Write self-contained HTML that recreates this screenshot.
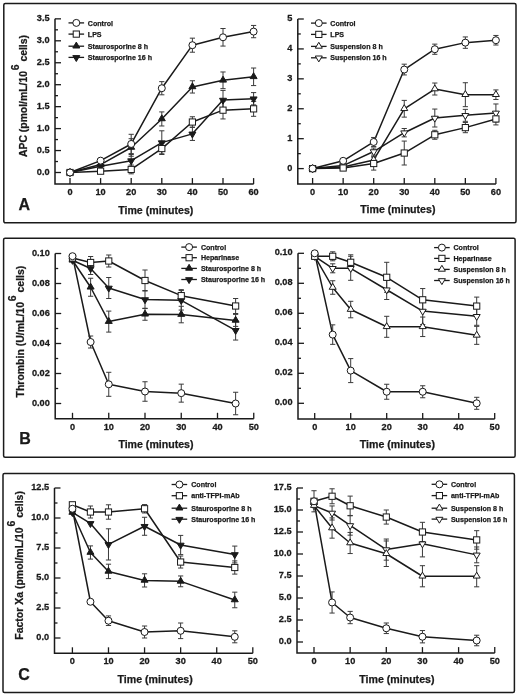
<!DOCTYPE html>
<html><head><meta charset="utf-8"><title>Figure</title>
<style>
html,body{margin:0;padding:0;background:#fff;}
body{width:520px;height:695px;overflow:hidden;}
svg{display:block;filter:grayscale(1);}
text{font-family:"Liberation Sans", sans-serif;font-weight:bold;fill:#1a1a1a;stroke:#1a1a1a;stroke-width:0.25px;}
.tl{font-size:8.6px;}
.at{font-size:10.6px;}
.lg{font-size:7.1px;}
.pl{font-size:16px;}
</style></head>
<body>
<svg width="520" height="695" viewBox="0 0 520 695">
<rect x="0" y="0" width="520" height="695" fill="#fff"/>
<rect x="3.8" y="3.4" width="512.2" height="219.4" rx="1.5" fill="none" stroke="#1a1a1a" stroke-width="1.5"/>
<rect x="3.6" y="238.2" width="511.5" height="219.1" rx="1.5" fill="none" stroke="#1a1a1a" stroke-width="1.5"/>
<rect x="3.0" y="473.5" width="511.4" height="219" rx="1.5" fill="none" stroke="#1a1a1a" stroke-width="1.5"/>
<path d="M55 18.85 L55 184.1 L253.6 184.1" fill="none" stroke="#1a1a1a" stroke-width="1.5"/>
<line x1="55" y1="172.5" x2="61" y2="172.5" stroke="#1a1a1a" stroke-width="1.3"/>
<text transform="translate(49.6,174.5) scale(1.07,1)" text-anchor="end" class="tl">0.0</text>
<line x1="55" y1="161.53" x2="58" y2="161.53" stroke="#1a1a1a" stroke-width="1.3"/>
<line x1="55" y1="150.55" x2="61" y2="150.55" stroke="#1a1a1a" stroke-width="1.3"/>
<text transform="translate(49.6,152.55) scale(1.07,1)" text-anchor="end" class="tl">0.5</text>
<line x1="55" y1="139.57" x2="58" y2="139.57" stroke="#1a1a1a" stroke-width="1.3"/>
<line x1="55" y1="128.6" x2="61" y2="128.6" stroke="#1a1a1a" stroke-width="1.3"/>
<text transform="translate(49.6,130.6) scale(1.07,1)" text-anchor="end" class="tl">1.0</text>
<line x1="55" y1="117.62" x2="58" y2="117.62" stroke="#1a1a1a" stroke-width="1.3"/>
<line x1="55" y1="106.65" x2="61" y2="106.65" stroke="#1a1a1a" stroke-width="1.3"/>
<text transform="translate(49.6,108.65) scale(1.07,1)" text-anchor="end" class="tl">1.5</text>
<line x1="55" y1="95.67" x2="58" y2="95.67" stroke="#1a1a1a" stroke-width="1.3"/>
<line x1="55" y1="84.7" x2="61" y2="84.7" stroke="#1a1a1a" stroke-width="1.3"/>
<text transform="translate(49.6,86.7) scale(1.07,1)" text-anchor="end" class="tl">2.0</text>
<line x1="55" y1="73.73" x2="58" y2="73.73" stroke="#1a1a1a" stroke-width="1.3"/>
<line x1="55" y1="62.75" x2="61" y2="62.75" stroke="#1a1a1a" stroke-width="1.3"/>
<text transform="translate(49.6,64.75) scale(1.07,1)" text-anchor="end" class="tl">2.5</text>
<line x1="55" y1="51.78" x2="58" y2="51.78" stroke="#1a1a1a" stroke-width="1.3"/>
<line x1="55" y1="40.8" x2="61" y2="40.8" stroke="#1a1a1a" stroke-width="1.3"/>
<text transform="translate(49.6,42.8) scale(1.07,1)" text-anchor="end" class="tl">3.0</text>
<line x1="55" y1="29.83" x2="58" y2="29.83" stroke="#1a1a1a" stroke-width="1.3"/>
<line x1="55" y1="18.85" x2="61" y2="18.85" stroke="#1a1a1a" stroke-width="1.3"/>
<text transform="translate(49.6,20.85) scale(1.07,1)" text-anchor="end" class="tl">3.5</text>
<line x1="70" y1="184.1" x2="70" y2="178.1" stroke="#1a1a1a" stroke-width="1.3"/>
<text transform="translate(70,195.1) scale(1.07,1)" text-anchor="middle" class="tl">0</text>
<line x1="100.6" y1="184.1" x2="100.6" y2="178.1" stroke="#1a1a1a" stroke-width="1.3"/>
<text transform="translate(100.6,195.1) scale(1.07,1)" text-anchor="middle" class="tl">10</text>
<line x1="131.2" y1="184.1" x2="131.2" y2="178.1" stroke="#1a1a1a" stroke-width="1.3"/>
<text transform="translate(131.2,195.1) scale(1.07,1)" text-anchor="middle" class="tl">20</text>
<line x1="161.8" y1="184.1" x2="161.8" y2="178.1" stroke="#1a1a1a" stroke-width="1.3"/>
<text transform="translate(161.8,195.1) scale(1.07,1)" text-anchor="middle" class="tl">30</text>
<line x1="192.4" y1="184.1" x2="192.4" y2="178.1" stroke="#1a1a1a" stroke-width="1.3"/>
<text transform="translate(192.4,195.1) scale(1.07,1)" text-anchor="middle" class="tl">40</text>
<line x1="223" y1="184.1" x2="223" y2="178.1" stroke="#1a1a1a" stroke-width="1.3"/>
<text transform="translate(223,195.1) scale(1.07,1)" text-anchor="middle" class="tl">50</text>
<line x1="253.6" y1="184.1" x2="253.6" y2="178.1" stroke="#1a1a1a" stroke-width="1.3"/>
<text transform="translate(253.6,195.1) scale(1.07,1)" text-anchor="middle" class="tl">60</text>
<text x="155.8" y="213.5" text-anchor="middle" class="at">Time (minutes)</text>
<polyline points="70,172.5 100.6,160.65 131.2,143.97 161.8,88.21 192.4,45.19 223,37.29 253.6,31.58" fill="none" stroke="#1a1a1a" stroke-width="1.5" stroke-linejoin="round"/>
<polyline points="70,172.5 100.6,171.18 131.2,169.43 161.8,148.57 192.4,122.02 223,110.16 253.6,108.84" fill="none" stroke="#1a1a1a" stroke-width="1.5" stroke-linejoin="round"/>
<polyline points="70,172.5 100.6,164.6 131.2,147.48 161.8,118.94 192.4,86.9 223,80.31 253.6,76.8" fill="none" stroke="#1a1a1a" stroke-width="1.5" stroke-linejoin="round"/>
<polyline points="70,172.5 100.6,166.35 131.2,160.65 161.8,142.65 192.4,133.87 223,100.07 253.6,98.75" fill="none" stroke="#1a1a1a" stroke-width="1.5" stroke-linejoin="round"/>
<path d="M100.6 158.89 L100.6 162.4 M98 158.89 L103.2 158.89 M98 162.4 L103.2 162.4" stroke="#3a3a3a" stroke-width="1" fill="none"/>
<path d="M131.2 134.31 L131.2 153.62 M128.6 134.31 L133.8 134.31 M128.6 153.62 L133.8 153.62" stroke="#3a3a3a" stroke-width="1" fill="none"/>
<path d="M161.8 81.63 L161.8 94.8 M159.2 81.63 L164.4 81.63 M159.2 94.8 L164.4 94.8" stroke="#3a3a3a" stroke-width="1" fill="none"/>
<path d="M192.4 38.17 L192.4 52.21 M189.8 38.17 L195 38.17 M189.8 52.21 L195 52.21" stroke="#3a3a3a" stroke-width="1" fill="none"/>
<path d="M223 28.51 L223 46.07 M220.4 28.51 L225.6 28.51 M220.4 46.07 L225.6 46.07" stroke="#3a3a3a" stroke-width="1" fill="none"/>
<path d="M253.6 25.44 L253.6 37.73 M251 25.44 L256.2 25.44 M251 37.73 L256.2 37.73" stroke="#3a3a3a" stroke-width="1" fill="none"/>
<path d="M100.6 168.99 L100.6 173.38 M98 168.99 L103.2 168.99 M98 173.38 L103.2 173.38" stroke="#3a3a3a" stroke-width="1" fill="none"/>
<path d="M131.2 165.04 L131.2 173.82 M128.6 165.04 L133.8 165.04 M128.6 173.82 L133.8 173.82" stroke="#3a3a3a" stroke-width="1" fill="none"/>
<path d="M161.8 143.31 L161.8 153.84 M159.2 143.31 L164.4 143.31 M159.2 153.84 L164.4 153.84" stroke="#3a3a3a" stroke-width="1" fill="none"/>
<path d="M192.4 116.75 L192.4 127.28 M189.8 116.75 L195 116.75 M189.8 127.28 L195 127.28" stroke="#3a3a3a" stroke-width="1" fill="none"/>
<path d="M223 101.38 L223 118.94 M220.4 101.38 L225.6 101.38 M220.4 118.94 L225.6 118.94" stroke="#3a3a3a" stroke-width="1" fill="none"/>
<path d="M253.6 101.38 L253.6 116.31 M251 101.38 L256.2 101.38 M251 116.31 L256.2 116.31" stroke="#3a3a3a" stroke-width="1" fill="none"/>
<path d="M100.6 162.4 L100.6 166.79 M98 162.4 L103.2 162.4 M98 166.79 L103.2 166.79" stroke="#3a3a3a" stroke-width="1" fill="none"/>
<path d="M131.2 138.7 L131.2 156.26 M128.6 138.7 L133.8 138.7 M128.6 156.26 L133.8 156.26" stroke="#3a3a3a" stroke-width="1" fill="none"/>
<path d="M161.8 111.92 L161.8 125.97 M159.2 111.92 L164.4 111.92 M159.2 125.97 L164.4 125.97" stroke="#3a3a3a" stroke-width="1" fill="none"/>
<path d="M192.4 80.75 L192.4 93.04 M189.8 80.75 L195 80.75 M189.8 93.04 L195 93.04" stroke="#3a3a3a" stroke-width="1" fill="none"/>
<path d="M223 71.97 L223 88.65 M220.4 71.97 L225.6 71.97 M220.4 88.65 L225.6 88.65" stroke="#3a3a3a" stroke-width="1" fill="none"/>
<path d="M253.6 68.02 L253.6 85.58 M251 68.02 L256.2 68.02 M251 85.58 L256.2 85.58" stroke="#3a3a3a" stroke-width="1" fill="none"/>
<path d="M100.6 164.16 L100.6 168.55 M98 164.16 L103.2 164.16 M98 168.55 L103.2 168.55" stroke="#3a3a3a" stroke-width="1" fill="none"/>
<path d="M131.2 154.5 L131.2 166.79 M128.6 154.5 L133.8 154.5 M128.6 166.79 L133.8 166.79" stroke="#3a3a3a" stroke-width="1" fill="none"/>
<path d="M161.8 130.8 L161.8 154.5 M159.2 130.8 L164.4 130.8 M159.2 154.5 L164.4 154.5" stroke="#3a3a3a" stroke-width="1" fill="none"/>
<path d="M192.4 127.28 L192.4 140.45 M189.8 127.28 L195 127.28 M189.8 140.45 L195 140.45" stroke="#3a3a3a" stroke-width="1" fill="none"/>
<path d="M223 90.41 L223 109.72 M220.4 90.41 L225.6 90.41 M220.4 109.72 L225.6 109.72" stroke="#3a3a3a" stroke-width="1" fill="none"/>
<path d="M253.6 92.6 L253.6 104.89 M251 92.6 L256.2 92.6 M251 104.89 L256.2 104.89" stroke="#3a3a3a" stroke-width="1" fill="none"/>
<path d="M70 176.6 L73.5 170.7 L66.5 170.7 Z" fill="#1a1a1a" stroke="#1a1a1a" stroke-width="1" stroke-linejoin="miter"/>
<path d="M100.6 170.45 L104.1 164.55 L97.1 164.55 Z" fill="#1a1a1a" stroke="#1a1a1a" stroke-width="1" stroke-linejoin="miter"/>
<path d="M131.2 164.75 L134.7 158.85 L127.7 158.85 Z" fill="#1a1a1a" stroke="#1a1a1a" stroke-width="1" stroke-linejoin="miter"/>
<path d="M161.8 146.75 L165.3 140.85 L158.3 140.85 Z" fill="#1a1a1a" stroke="#1a1a1a" stroke-width="1" stroke-linejoin="miter"/>
<path d="M192.4 137.97 L195.9 132.07 L188.9 132.07 Z" fill="#1a1a1a" stroke="#1a1a1a" stroke-width="1" stroke-linejoin="miter"/>
<path d="M223 104.17 L226.5 98.27 L219.5 98.27 Z" fill="#1a1a1a" stroke="#1a1a1a" stroke-width="1" stroke-linejoin="miter"/>
<path d="M253.6 102.85 L257.1 96.95 L250.1 96.95 Z" fill="#1a1a1a" stroke="#1a1a1a" stroke-width="1" stroke-linejoin="miter"/>
<path d="M70 168.4 L73.5 174.3 L66.5 174.3 Z" fill="#1a1a1a" stroke="#1a1a1a" stroke-width="1" stroke-linejoin="miter"/>
<path d="M100.6 160.5 L104.1 166.4 L97.1 166.4 Z" fill="#1a1a1a" stroke="#1a1a1a" stroke-width="1" stroke-linejoin="miter"/>
<path d="M131.2 143.38 L134.7 149.28 L127.7 149.28 Z" fill="#1a1a1a" stroke="#1a1a1a" stroke-width="1" stroke-linejoin="miter"/>
<path d="M161.8 114.84 L165.3 120.74 L158.3 120.74 Z" fill="#1a1a1a" stroke="#1a1a1a" stroke-width="1" stroke-linejoin="miter"/>
<path d="M192.4 82.8 L195.9 88.7 L188.9 88.7 Z" fill="#1a1a1a" stroke="#1a1a1a" stroke-width="1" stroke-linejoin="miter"/>
<path d="M223 76.21 L226.5 82.11 L219.5 82.11 Z" fill="#1a1a1a" stroke="#1a1a1a" stroke-width="1" stroke-linejoin="miter"/>
<path d="M253.6 72.7 L257.1 78.6 L250.1 78.6 Z" fill="#1a1a1a" stroke="#1a1a1a" stroke-width="1" stroke-linejoin="miter"/>
<rect x="66.9" y="169.4" width="6.2" height="6.2" fill="#ffffff" stroke="#1a1a1a" stroke-width="1"/>
<rect x="97.5" y="168.08" width="6.2" height="6.2" fill="#ffffff" stroke="#1a1a1a" stroke-width="1"/>
<rect x="128.1" y="166.33" width="6.2" height="6.2" fill="#ffffff" stroke="#1a1a1a" stroke-width="1"/>
<rect x="158.7" y="145.47" width="6.2" height="6.2" fill="#ffffff" stroke="#1a1a1a" stroke-width="1"/>
<rect x="189.3" y="118.92" width="6.2" height="6.2" fill="#ffffff" stroke="#1a1a1a" stroke-width="1"/>
<rect x="219.9" y="107.06" width="6.2" height="6.2" fill="#ffffff" stroke="#1a1a1a" stroke-width="1"/>
<rect x="250.5" y="105.75" width="6.2" height="6.2" fill="#ffffff" stroke="#1a1a1a" stroke-width="1"/>
<circle cx="70" cy="172.5" r="3.5" fill="#ffffff" stroke="#1a1a1a" stroke-width="1"/>
<circle cx="100.6" cy="160.65" r="3.5" fill="#ffffff" stroke="#1a1a1a" stroke-width="1"/>
<circle cx="131.2" cy="143.97" r="3.5" fill="#ffffff" stroke="#1a1a1a" stroke-width="1"/>
<circle cx="161.8" cy="88.21" r="3.5" fill="#ffffff" stroke="#1a1a1a" stroke-width="1"/>
<circle cx="192.4" cy="45.19" r="3.5" fill="#ffffff" stroke="#1a1a1a" stroke-width="1"/>
<circle cx="223" cy="37.29" r="3.5" fill="#ffffff" stroke="#1a1a1a" stroke-width="1"/>
<circle cx="253.6" cy="31.58" r="3.5" fill="#ffffff" stroke="#1a1a1a" stroke-width="1"/>
<line x1="68.5" y1="22.9" x2="84.1" y2="22.9" stroke="#1a1a1a" stroke-width="1.3"/>
<circle cx="76.3" cy="22.9" r="3.5" fill="#ffffff" stroke="#1a1a1a" stroke-width="1"/>
<text x="87.8" y="25.5" class="lg">Control</text>
<line x1="68.5" y1="34.1" x2="84.1" y2="34.1" stroke="#1a1a1a" stroke-width="1.3"/>
<rect x="73.2" y="31" width="6.2" height="6.2" fill="#ffffff" stroke="#1a1a1a" stroke-width="1"/>
<text x="87.8" y="36.7" class="lg">LPS</text>
<line x1="68.5" y1="46.2" x2="84.1" y2="46.2" stroke="#1a1a1a" stroke-width="1.3"/>
<path d="M76.3 42.1 L79.8 48 L72.8 48 Z" fill="#1a1a1a" stroke="#1a1a1a" stroke-width="1" stroke-linejoin="miter"/>
<text x="87.8" y="48.8" class="lg">Staurosporine 8 h</text>
<line x1="68.5" y1="57.4" x2="84.1" y2="57.4" stroke="#1a1a1a" stroke-width="1.3"/>
<path d="M76.3 61.5 L79.8 55.6 L72.8 55.6 Z" fill="#1a1a1a" stroke="#1a1a1a" stroke-width="1" stroke-linejoin="miter"/>
<text x="87.8" y="60" class="lg">Staurosporine 16 h</text>
<path d="M297.8 19 L297.8 184 L495.9 184" fill="none" stroke="#1a1a1a" stroke-width="1.5"/>
<line x1="297.8" y1="168.6" x2="303.8" y2="168.6" stroke="#1a1a1a" stroke-width="1.3"/>
<text transform="translate(292.4,170.6) scale(1.07,1)" text-anchor="end" class="tl">0</text>
<line x1="297.8" y1="153.64" x2="300.8" y2="153.64" stroke="#1a1a1a" stroke-width="1.3"/>
<line x1="297.8" y1="138.68" x2="303.8" y2="138.68" stroke="#1a1a1a" stroke-width="1.3"/>
<text transform="translate(292.4,140.68) scale(1.07,1)" text-anchor="end" class="tl">1</text>
<line x1="297.8" y1="123.72" x2="300.8" y2="123.72" stroke="#1a1a1a" stroke-width="1.3"/>
<line x1="297.8" y1="108.76" x2="303.8" y2="108.76" stroke="#1a1a1a" stroke-width="1.3"/>
<text transform="translate(292.4,110.76) scale(1.07,1)" text-anchor="end" class="tl">2</text>
<line x1="297.8" y1="93.8" x2="300.8" y2="93.8" stroke="#1a1a1a" stroke-width="1.3"/>
<line x1="297.8" y1="78.84" x2="303.8" y2="78.84" stroke="#1a1a1a" stroke-width="1.3"/>
<text transform="translate(292.4,80.84) scale(1.07,1)" text-anchor="end" class="tl">3</text>
<line x1="297.8" y1="63.88" x2="300.8" y2="63.88" stroke="#1a1a1a" stroke-width="1.3"/>
<line x1="297.8" y1="48.92" x2="303.8" y2="48.92" stroke="#1a1a1a" stroke-width="1.3"/>
<text transform="translate(292.4,50.92) scale(1.07,1)" text-anchor="end" class="tl">4</text>
<line x1="297.8" y1="33.96" x2="300.8" y2="33.96" stroke="#1a1a1a" stroke-width="1.3"/>
<line x1="297.8" y1="19" x2="303.8" y2="19" stroke="#1a1a1a" stroke-width="1.3"/>
<text transform="translate(292.4,21) scale(1.07,1)" text-anchor="end" class="tl">5</text>
<line x1="312.6" y1="184" x2="312.6" y2="178" stroke="#1a1a1a" stroke-width="1.3"/>
<text transform="translate(312.6,195) scale(1.07,1)" text-anchor="middle" class="tl">0</text>
<line x1="343.15" y1="184" x2="343.15" y2="178" stroke="#1a1a1a" stroke-width="1.3"/>
<text transform="translate(343.15,195) scale(1.07,1)" text-anchor="middle" class="tl">10</text>
<line x1="373.7" y1="184" x2="373.7" y2="178" stroke="#1a1a1a" stroke-width="1.3"/>
<text transform="translate(373.7,195) scale(1.07,1)" text-anchor="middle" class="tl">20</text>
<line x1="404.25" y1="184" x2="404.25" y2="178" stroke="#1a1a1a" stroke-width="1.3"/>
<text transform="translate(404.25,195) scale(1.07,1)" text-anchor="middle" class="tl">30</text>
<line x1="434.8" y1="184" x2="434.8" y2="178" stroke="#1a1a1a" stroke-width="1.3"/>
<text transform="translate(434.8,195) scale(1.07,1)" text-anchor="middle" class="tl">40</text>
<line x1="465.35" y1="184" x2="465.35" y2="178" stroke="#1a1a1a" stroke-width="1.3"/>
<text transform="translate(465.35,195) scale(1.07,1)" text-anchor="middle" class="tl">50</text>
<line x1="495.9" y1="184" x2="495.9" y2="178" stroke="#1a1a1a" stroke-width="1.3"/>
<text transform="translate(495.9,195) scale(1.07,1)" text-anchor="middle" class="tl">60</text>
<text x="397.85" y="213.4" text-anchor="middle" class="at">Time (minutes)</text>
<polyline points="312.6,168.6 343.15,160.82 373.7,141.97 404.25,69.56 434.8,49.22 465.35,42.64 495.9,40.24" fill="none" stroke="#1a1a1a" stroke-width="1.5" stroke-linejoin="round"/>
<polyline points="312.6,168.6 343.15,168 373.7,163.51 404.25,153.04 434.8,134.79 465.35,127.61 495.9,118.93" fill="none" stroke="#1a1a1a" stroke-width="1.5" stroke-linejoin="round"/>
<polyline points="312.6,168.6 343.15,167.1 373.7,159.92 404.25,108.76 434.8,89.01 465.35,94.7 495.9,94.7" fill="none" stroke="#1a1a1a" stroke-width="1.5" stroke-linejoin="round"/>
<polyline points="312.6,168.6 343.15,165.61 373.7,151.55 404.25,132.7 434.8,118.04 465.35,115.34 495.9,112.95" fill="none" stroke="#1a1a1a" stroke-width="1.5" stroke-linejoin="round"/>
<path d="M343.15 159.32 L343.15 162.32 M340.55 159.32 L345.75 159.32 M340.55 162.32 L345.75 162.32" stroke="#3a3a3a" stroke-width="1" fill="none"/>
<path d="M373.7 137.48 L373.7 146.46 M371.1 137.48 L376.3 137.48 M371.1 146.46 L376.3 146.46" stroke="#3a3a3a" stroke-width="1" fill="none"/>
<path d="M404.25 64.18 L404.25 74.95 M401.65 64.18 L406.85 64.18 M401.65 74.95 L406.85 74.95" stroke="#3a3a3a" stroke-width="1" fill="none"/>
<path d="M434.8 44.13 L434.8 54.31 M432.2 44.13 L437.4 44.13 M432.2 54.31 L437.4 54.31" stroke="#3a3a3a" stroke-width="1" fill="none"/>
<path d="M465.35 36.95 L465.35 48.32 M462.75 36.95 L467.95 36.95 M462.75 48.32 L467.95 48.32" stroke="#3a3a3a" stroke-width="1" fill="none"/>
<path d="M495.9 35.46 L495.9 45.03 M493.3 35.46 L498.5 35.46 M493.3 45.03 L498.5 45.03" stroke="#3a3a3a" stroke-width="1" fill="none"/>
<path d="M343.15 166.51 L343.15 169.5 M340.55 166.51 L345.75 166.51 M340.55 169.5 L345.75 169.5" stroke="#3a3a3a" stroke-width="1" fill="none"/>
<path d="M373.7 156.93 L373.7 170.1 M371.1 156.93 L376.3 156.93 M371.1 170.1 L376.3 170.1" stroke="#3a3a3a" stroke-width="1" fill="none"/>
<path d="M404.25 141.07 L404.25 165.01 M401.65 141.07 L406.85 141.07 M401.65 165.01 L406.85 165.01" stroke="#3a3a3a" stroke-width="1" fill="none"/>
<path d="M434.8 130.3 L434.8 139.28 M432.2 130.3 L437.4 130.3 M432.2 139.28 L437.4 139.28" stroke="#3a3a3a" stroke-width="1" fill="none"/>
<path d="M465.35 122.52 L465.35 132.7 M462.75 122.52 L467.95 122.52 M462.75 132.7 L467.95 132.7" stroke="#3a3a3a" stroke-width="1" fill="none"/>
<path d="M495.9 112.95 L495.9 124.92 M493.3 112.95 L498.5 112.95 M493.3 124.92 L498.5 124.92" stroke="#3a3a3a" stroke-width="1" fill="none"/>
<path d="M343.15 165.61 L343.15 168.6 M340.55 165.61 L345.75 165.61 M340.55 168.6 L345.75 168.6" stroke="#3a3a3a" stroke-width="1" fill="none"/>
<path d="M373.7 156.93 L373.7 162.92 M371.1 156.93 L376.3 156.93 M371.1 162.92 L376.3 162.92" stroke="#3a3a3a" stroke-width="1" fill="none"/>
<path d="M404.25 100.38 L404.25 117.14 M401.65 100.38 L406.85 100.38 M401.65 117.14 L406.85 117.14" stroke="#3a3a3a" stroke-width="1" fill="none"/>
<path d="M434.8 83.03 L434.8 95 M432.2 83.03 L437.4 83.03 M432.2 95 L437.4 95" stroke="#3a3a3a" stroke-width="1" fill="none"/>
<path d="M465.35 82.73 L465.35 106.67 M462.75 82.73 L467.95 82.73 M462.75 106.67 L467.95 106.67" stroke="#3a3a3a" stroke-width="1" fill="none"/>
<path d="M495.9 89.91 L495.9 99.48 M493.3 89.91 L498.5 89.91 M493.3 99.48 L498.5 99.48" stroke="#3a3a3a" stroke-width="1" fill="none"/>
<path d="M343.15 164.11 L343.15 167.1 M340.55 164.11 L345.75 164.11 M340.55 167.1 L345.75 167.1" stroke="#3a3a3a" stroke-width="1" fill="none"/>
<path d="M373.7 147.96 L373.7 155.14 M371.1 147.96 L376.3 147.96 M371.1 155.14 L376.3 155.14" stroke="#3a3a3a" stroke-width="1" fill="none"/>
<path d="M404.25 128.51 L404.25 136.88 M401.65 128.51 L406.85 128.51 M401.65 136.88 L406.85 136.88" stroke="#3a3a3a" stroke-width="1" fill="none"/>
<path d="M434.8 109.06 L434.8 127.01 M432.2 109.06 L437.4 109.06 M432.2 127.01 L437.4 127.01" stroke="#3a3a3a" stroke-width="1" fill="none"/>
<path d="M465.35 109.36 L465.35 121.33 M462.75 109.36 L467.95 109.36 M462.75 121.33 L467.95 121.33" stroke="#3a3a3a" stroke-width="1" fill="none"/>
<path d="M495.9 103.97 L495.9 121.92 M493.3 103.97 L498.5 103.97 M493.3 121.92 L498.5 121.92" stroke="#3a3a3a" stroke-width="1" fill="none"/>
<path d="M312.6 172.7 L316.1 166.8 L309.1 166.8 Z" fill="#ffffff" stroke="#1a1a1a" stroke-width="1" stroke-linejoin="miter"/>
<path d="M343.15 169.71 L346.65 163.81 L339.65 163.81 Z" fill="#ffffff" stroke="#1a1a1a" stroke-width="1" stroke-linejoin="miter"/>
<path d="M373.7 155.65 L377.2 149.75 L370.2 149.75 Z" fill="#ffffff" stroke="#1a1a1a" stroke-width="1" stroke-linejoin="miter"/>
<path d="M404.25 136.8 L407.75 130.9 L400.75 130.9 Z" fill="#ffffff" stroke="#1a1a1a" stroke-width="1" stroke-linejoin="miter"/>
<path d="M434.8 122.14 L438.3 116.24 L431.3 116.24 Z" fill="#ffffff" stroke="#1a1a1a" stroke-width="1" stroke-linejoin="miter"/>
<path d="M465.35 119.44 L468.85 113.54 L461.85 113.54 Z" fill="#ffffff" stroke="#1a1a1a" stroke-width="1" stroke-linejoin="miter"/>
<path d="M495.9 117.05 L499.4 111.15 L492.4 111.15 Z" fill="#ffffff" stroke="#1a1a1a" stroke-width="1" stroke-linejoin="miter"/>
<path d="M312.6 164.5 L316.1 170.4 L309.1 170.4 Z" fill="#ffffff" stroke="#1a1a1a" stroke-width="1" stroke-linejoin="miter"/>
<path d="M343.15 163 L346.65 168.9 L339.65 168.9 Z" fill="#ffffff" stroke="#1a1a1a" stroke-width="1" stroke-linejoin="miter"/>
<path d="M373.7 155.82 L377.2 161.72 L370.2 161.72 Z" fill="#ffffff" stroke="#1a1a1a" stroke-width="1" stroke-linejoin="miter"/>
<path d="M404.25 104.66 L407.75 110.56 L400.75 110.56 Z" fill="#ffffff" stroke="#1a1a1a" stroke-width="1" stroke-linejoin="miter"/>
<path d="M434.8 84.91 L438.3 90.81 L431.3 90.81 Z" fill="#ffffff" stroke="#1a1a1a" stroke-width="1" stroke-linejoin="miter"/>
<path d="M465.35 90.6 L468.85 96.5 L461.85 96.5 Z" fill="#ffffff" stroke="#1a1a1a" stroke-width="1" stroke-linejoin="miter"/>
<path d="M495.9 90.6 L499.4 96.5 L492.4 96.5 Z" fill="#ffffff" stroke="#1a1a1a" stroke-width="1" stroke-linejoin="miter"/>
<rect x="309.5" y="165.5" width="6.2" height="6.2" fill="#ffffff" stroke="#1a1a1a" stroke-width="1"/>
<rect x="340.05" y="164.9" width="6.2" height="6.2" fill="#ffffff" stroke="#1a1a1a" stroke-width="1"/>
<rect x="370.6" y="160.41" width="6.2" height="6.2" fill="#ffffff" stroke="#1a1a1a" stroke-width="1"/>
<rect x="401.15" y="149.94" width="6.2" height="6.2" fill="#ffffff" stroke="#1a1a1a" stroke-width="1"/>
<rect x="431.7" y="131.69" width="6.2" height="6.2" fill="#ffffff" stroke="#1a1a1a" stroke-width="1"/>
<rect x="462.25" y="124.51" width="6.2" height="6.2" fill="#ffffff" stroke="#1a1a1a" stroke-width="1"/>
<rect x="492.8" y="115.83" width="6.2" height="6.2" fill="#ffffff" stroke="#1a1a1a" stroke-width="1"/>
<circle cx="312.6" cy="168.6" r="3.5" fill="#ffffff" stroke="#1a1a1a" stroke-width="1"/>
<circle cx="343.15" cy="160.82" r="3.5" fill="#ffffff" stroke="#1a1a1a" stroke-width="1"/>
<circle cx="373.7" cy="141.97" r="3.5" fill="#ffffff" stroke="#1a1a1a" stroke-width="1"/>
<circle cx="404.25" cy="69.56" r="3.5" fill="#ffffff" stroke="#1a1a1a" stroke-width="1"/>
<circle cx="434.8" cy="49.22" r="3.5" fill="#ffffff" stroke="#1a1a1a" stroke-width="1"/>
<circle cx="465.35" cy="42.64" r="3.5" fill="#ffffff" stroke="#1a1a1a" stroke-width="1"/>
<circle cx="495.9" cy="40.24" r="3.5" fill="#ffffff" stroke="#1a1a1a" stroke-width="1"/>
<line x1="311" y1="23.1" x2="326.6" y2="23.1" stroke="#1a1a1a" stroke-width="1.3"/>
<circle cx="318.8" cy="23.1" r="3.5" fill="#ffffff" stroke="#1a1a1a" stroke-width="1"/>
<text x="330.3" y="25.7" class="lg">Control</text>
<line x1="311" y1="34.4" x2="326.6" y2="34.4" stroke="#1a1a1a" stroke-width="1.3"/>
<rect x="315.7" y="31.3" width="6.2" height="6.2" fill="#ffffff" stroke="#1a1a1a" stroke-width="1"/>
<text x="330.3" y="37" class="lg">LPS</text>
<line x1="311" y1="46.4" x2="326.6" y2="46.4" stroke="#1a1a1a" stroke-width="1.3"/>
<path d="M318.8 42.3 L322.3 48.2 L315.3 48.2 Z" fill="#ffffff" stroke="#1a1a1a" stroke-width="1" stroke-linejoin="miter"/>
<text x="330.3" y="49" class="lg">Suspension 8 h</text>
<line x1="311" y1="57.8" x2="326.6" y2="57.8" stroke="#1a1a1a" stroke-width="1.3"/>
<path d="M318.8 61.9 L322.3 56 L315.3 56 Z" fill="#ffffff" stroke="#1a1a1a" stroke-width="1" stroke-linejoin="miter"/>
<text x="330.3" y="60.4" class="lg">Suspension 16 h</text>
<path d="M55.2 253.5 L55.2 418.8 L253.75 418.8" fill="none" stroke="#1a1a1a" stroke-width="1.5"/>
<line x1="55.2" y1="403.5" x2="61.2" y2="403.5" stroke="#1a1a1a" stroke-width="1.3"/>
<text transform="translate(49.8,405.5) scale(1.07,1)" text-anchor="end" class="tl">0.00</text>
<line x1="55.2" y1="388.5" x2="58.2" y2="388.5" stroke="#1a1a1a" stroke-width="1.3"/>
<line x1="55.2" y1="373.5" x2="61.2" y2="373.5" stroke="#1a1a1a" stroke-width="1.3"/>
<text transform="translate(49.8,375.5) scale(1.07,1)" text-anchor="end" class="tl">0.02</text>
<line x1="55.2" y1="358.5" x2="58.2" y2="358.5" stroke="#1a1a1a" stroke-width="1.3"/>
<line x1="55.2" y1="343.5" x2="61.2" y2="343.5" stroke="#1a1a1a" stroke-width="1.3"/>
<text transform="translate(49.8,345.5) scale(1.07,1)" text-anchor="end" class="tl">0.04</text>
<line x1="55.2" y1="328.5" x2="58.2" y2="328.5" stroke="#1a1a1a" stroke-width="1.3"/>
<line x1="55.2" y1="313.5" x2="61.2" y2="313.5" stroke="#1a1a1a" stroke-width="1.3"/>
<text transform="translate(49.8,315.5) scale(1.07,1)" text-anchor="end" class="tl">0.06</text>
<line x1="55.2" y1="298.5" x2="58.2" y2="298.5" stroke="#1a1a1a" stroke-width="1.3"/>
<line x1="55.2" y1="283.5" x2="61.2" y2="283.5" stroke="#1a1a1a" stroke-width="1.3"/>
<text transform="translate(49.8,285.5) scale(1.07,1)" text-anchor="end" class="tl">0.08</text>
<line x1="55.2" y1="268.5" x2="58.2" y2="268.5" stroke="#1a1a1a" stroke-width="1.3"/>
<line x1="55.2" y1="253.5" x2="61.2" y2="253.5" stroke="#1a1a1a" stroke-width="1.3"/>
<text transform="translate(49.8,255.5) scale(1.07,1)" text-anchor="end" class="tl">0.10</text>
<line x1="72.5" y1="418.8" x2="72.5" y2="412.8" stroke="#1a1a1a" stroke-width="1.3"/>
<text transform="translate(72.5,429.8) scale(1.07,1)" text-anchor="middle" class="tl">0</text>
<line x1="108.75" y1="418.8" x2="108.75" y2="412.8" stroke="#1a1a1a" stroke-width="1.3"/>
<text transform="translate(108.75,429.8) scale(1.07,1)" text-anchor="middle" class="tl">10</text>
<line x1="145" y1="418.8" x2="145" y2="412.8" stroke="#1a1a1a" stroke-width="1.3"/>
<text transform="translate(145,429.8) scale(1.07,1)" text-anchor="middle" class="tl">20</text>
<line x1="181.25" y1="418.8" x2="181.25" y2="412.8" stroke="#1a1a1a" stroke-width="1.3"/>
<text transform="translate(181.25,429.8) scale(1.07,1)" text-anchor="middle" class="tl">30</text>
<line x1="217.5" y1="418.8" x2="217.5" y2="412.8" stroke="#1a1a1a" stroke-width="1.3"/>
<text transform="translate(217.5,429.8) scale(1.07,1)" text-anchor="middle" class="tl">40</text>
<line x1="253.75" y1="418.8" x2="253.75" y2="412.8" stroke="#1a1a1a" stroke-width="1.3"/>
<text transform="translate(253.75,429.8) scale(1.07,1)" text-anchor="middle" class="tl">50</text>
<text x="155.97" y="448.2" text-anchor="middle" class="at">Time (minutes)</text>
<polyline points="72.5,256.2 90.62,342 108.75,384.3 145,391.5 181.25,393.15 235.62,403.5" fill="none" stroke="#1a1a1a" stroke-width="1.5" stroke-linejoin="round"/>
<polyline points="72.5,258 90.62,262.5 108.75,261 145,280.5 181.25,295.65 235.62,306" fill="none" stroke="#1a1a1a" stroke-width="1.5" stroke-linejoin="round"/>
<polyline points="72.5,260.25 90.62,287.25 108.75,321.6 145,314.25 181.25,314.55 235.62,320.4" fill="none" stroke="#1a1a1a" stroke-width="1.5" stroke-linejoin="round"/>
<polyline points="72.5,260.25 90.62,268.5 108.75,288 145,299.55 181.25,300.3 235.62,330.3" fill="none" stroke="#1a1a1a" stroke-width="1.5" stroke-linejoin="round"/>
<path d="M90.62 336 L90.62 348 M88.03 336 L93.22 336 M88.03 348 L93.22 348" stroke="#3a3a3a" stroke-width="1" fill="none"/>
<path d="M108.75 372.3 L108.75 396.3 M106.15 372.3 L111.35 372.3 M106.15 396.3 L111.35 396.3" stroke="#3a3a3a" stroke-width="1" fill="none"/>
<path d="M145 381.75 L145 401.25 M142.4 381.75 L147.6 381.75 M142.4 401.25 L147.6 401.25" stroke="#3a3a3a" stroke-width="1" fill="none"/>
<path d="M181.25 384.15 L181.25 402.15 M178.65 384.15 L183.85 384.15 M178.65 402.15 L183.85 402.15" stroke="#3a3a3a" stroke-width="1" fill="none"/>
<path d="M235.62 392.25 L235.62 414.75 M233.03 392.25 L238.22 392.25 M233.03 414.75 L238.22 414.75" stroke="#3a3a3a" stroke-width="1" fill="none"/>
<path d="M90.62 256.5 L90.62 268.5 M88.03 256.5 L93.22 256.5 M88.03 268.5 L93.22 268.5" stroke="#3a3a3a" stroke-width="1" fill="none"/>
<path d="M108.75 255 L108.75 267 M106.15 255 L111.35 255 M106.15 267 L111.35 267" stroke="#3a3a3a" stroke-width="1" fill="none"/>
<path d="M145 270 L145 291 M142.4 270 L147.6 270 M142.4 291 L147.6 291" stroke="#3a3a3a" stroke-width="1" fill="none"/>
<path d="M181.25 289.65 L181.25 301.65 M178.65 289.65 L183.85 289.65 M178.65 301.65 L183.85 301.65" stroke="#3a3a3a" stroke-width="1" fill="none"/>
<path d="M235.62 298.5 L235.62 313.5 M233.03 298.5 L238.22 298.5 M233.03 313.5 L238.22 313.5" stroke="#3a3a3a" stroke-width="1" fill="none"/>
<path d="M90.62 278.25 L90.62 296.25 M88.03 278.25 L93.22 278.25 M88.03 296.25 L93.22 296.25" stroke="#3a3a3a" stroke-width="1" fill="none"/>
<path d="M108.75 311.1 L108.75 332.1 M106.15 311.1 L111.35 311.1 M106.15 332.1 L111.35 332.1" stroke="#3a3a3a" stroke-width="1" fill="none"/>
<path d="M145 308.25 L145 320.25 M142.4 308.25 L147.6 308.25 M142.4 320.25 L147.6 320.25" stroke="#3a3a3a" stroke-width="1" fill="none"/>
<path d="M181.25 306.3 L181.25 322.8 M178.65 306.3 L183.85 306.3 M178.65 322.8 L183.85 322.8" stroke="#3a3a3a" stroke-width="1" fill="none"/>
<path d="M235.62 314.4 L235.62 326.4 M233.03 314.4 L238.22 314.4 M233.03 326.4 L238.22 326.4" stroke="#3a3a3a" stroke-width="1" fill="none"/>
<path d="M90.62 262.5 L90.62 274.5 M88.03 262.5 L93.22 262.5 M88.03 274.5 L93.22 274.5" stroke="#3a3a3a" stroke-width="1" fill="none"/>
<path d="M108.75 277.5 L108.75 298.5 M106.15 277.5 L111.35 277.5 M106.15 298.5 L111.35 298.5" stroke="#3a3a3a" stroke-width="1" fill="none"/>
<path d="M145 290.55 L145 308.55 M142.4 290.55 L147.6 290.55 M142.4 308.55 L147.6 308.55" stroke="#3a3a3a" stroke-width="1" fill="none"/>
<path d="M181.25 290.55 L181.25 310.05 M178.65 290.55 L183.85 290.55 M178.65 310.05 L183.85 310.05" stroke="#3a3a3a" stroke-width="1" fill="none"/>
<path d="M235.62 320.55 L235.62 340.05 M233.03 320.55 L238.22 320.55 M233.03 340.05 L238.22 340.05" stroke="#3a3a3a" stroke-width="1" fill="none"/>
<path d="M72.5 264.35 L76 258.45 L69 258.45 Z" fill="#1a1a1a" stroke="#1a1a1a" stroke-width="1" stroke-linejoin="miter"/>
<path d="M90.62 272.6 L94.12 266.7 L87.12 266.7 Z" fill="#1a1a1a" stroke="#1a1a1a" stroke-width="1" stroke-linejoin="miter"/>
<path d="M108.75 292.1 L112.25 286.2 L105.25 286.2 Z" fill="#1a1a1a" stroke="#1a1a1a" stroke-width="1" stroke-linejoin="miter"/>
<path d="M145 303.65 L148.5 297.75 L141.5 297.75 Z" fill="#1a1a1a" stroke="#1a1a1a" stroke-width="1" stroke-linejoin="miter"/>
<path d="M181.25 304.4 L184.75 298.5 L177.75 298.5 Z" fill="#1a1a1a" stroke="#1a1a1a" stroke-width="1" stroke-linejoin="miter"/>
<path d="M235.62 334.4 L239.12 328.5 L232.12 328.5 Z" fill="#1a1a1a" stroke="#1a1a1a" stroke-width="1" stroke-linejoin="miter"/>
<path d="M72.5 256.15 L76 262.05 L69 262.05 Z" fill="#1a1a1a" stroke="#1a1a1a" stroke-width="1" stroke-linejoin="miter"/>
<path d="M90.62 283.15 L94.12 289.05 L87.12 289.05 Z" fill="#1a1a1a" stroke="#1a1a1a" stroke-width="1" stroke-linejoin="miter"/>
<path d="M108.75 317.5 L112.25 323.4 L105.25 323.4 Z" fill="#1a1a1a" stroke="#1a1a1a" stroke-width="1" stroke-linejoin="miter"/>
<path d="M145 310.15 L148.5 316.05 L141.5 316.05 Z" fill="#1a1a1a" stroke="#1a1a1a" stroke-width="1" stroke-linejoin="miter"/>
<path d="M181.25 310.45 L184.75 316.35 L177.75 316.35 Z" fill="#1a1a1a" stroke="#1a1a1a" stroke-width="1" stroke-linejoin="miter"/>
<path d="M235.62 316.3 L239.12 322.2 L232.12 322.2 Z" fill="#1a1a1a" stroke="#1a1a1a" stroke-width="1" stroke-linejoin="miter"/>
<rect x="69.4" y="254.9" width="6.2" height="6.2" fill="#ffffff" stroke="#1a1a1a" stroke-width="1"/>
<rect x="87.53" y="259.4" width="6.2" height="6.2" fill="#ffffff" stroke="#1a1a1a" stroke-width="1"/>
<rect x="105.65" y="257.9" width="6.2" height="6.2" fill="#ffffff" stroke="#1a1a1a" stroke-width="1"/>
<rect x="141.9" y="277.4" width="6.2" height="6.2" fill="#ffffff" stroke="#1a1a1a" stroke-width="1"/>
<rect x="178.15" y="292.55" width="6.2" height="6.2" fill="#ffffff" stroke="#1a1a1a" stroke-width="1"/>
<rect x="232.53" y="302.9" width="6.2" height="6.2" fill="#ffffff" stroke="#1a1a1a" stroke-width="1"/>
<circle cx="72.5" cy="256.2" r="3.5" fill="#ffffff" stroke="#1a1a1a" stroke-width="1"/>
<circle cx="90.62" cy="342" r="3.5" fill="#ffffff" stroke="#1a1a1a" stroke-width="1"/>
<circle cx="108.75" cy="384.3" r="3.5" fill="#ffffff" stroke="#1a1a1a" stroke-width="1"/>
<circle cx="145" cy="391.5" r="3.5" fill="#ffffff" stroke="#1a1a1a" stroke-width="1"/>
<circle cx="181.25" cy="393.15" r="3.5" fill="#ffffff" stroke="#1a1a1a" stroke-width="1"/>
<circle cx="235.62" cy="403.5" r="3.5" fill="#ffffff" stroke="#1a1a1a" stroke-width="1"/>
<line x1="181.3" y1="247.1" x2="196.9" y2="247.1" stroke="#1a1a1a" stroke-width="1.3"/>
<circle cx="189.1" cy="247.1" r="3.5" fill="#ffffff" stroke="#1a1a1a" stroke-width="1"/>
<text x="200.9" y="249.7" class="lg">Control</text>
<line x1="181.3" y1="257.7" x2="196.9" y2="257.7" stroke="#1a1a1a" stroke-width="1.3"/>
<rect x="186" y="254.6" width="6.2" height="6.2" fill="#ffffff" stroke="#1a1a1a" stroke-width="1"/>
<text x="200.9" y="260.3" class="lg">Heparinase</text>
<line x1="181.3" y1="268.4" x2="196.9" y2="268.4" stroke="#1a1a1a" stroke-width="1.3"/>
<path d="M189.1 264.3 L192.6 270.2 L185.6 270.2 Z" fill="#1a1a1a" stroke="#1a1a1a" stroke-width="1" stroke-linejoin="miter"/>
<text x="200.9" y="271" class="lg">Staurosporine 8 h</text>
<line x1="181.3" y1="279.5" x2="196.9" y2="279.5" stroke="#1a1a1a" stroke-width="1.3"/>
<path d="M189.1 283.6 L192.6 277.7 L185.6 277.7 Z" fill="#1a1a1a" stroke="#1a1a1a" stroke-width="1" stroke-linejoin="miter"/>
<text x="200.9" y="282.1" class="lg">Staurosporine 16 h</text>
<path d="M298 253.3 L298 418.9 L494.7 418.9" fill="none" stroke="#1a1a1a" stroke-width="1.5"/>
<line x1="298" y1="403.3" x2="304" y2="403.3" stroke="#1a1a1a" stroke-width="1.3"/>
<text transform="translate(292.6,405.3) scale(1.07,1)" text-anchor="end" class="tl">0.00</text>
<line x1="298" y1="388.3" x2="301" y2="388.3" stroke="#1a1a1a" stroke-width="1.3"/>
<line x1="298" y1="373.3" x2="304" y2="373.3" stroke="#1a1a1a" stroke-width="1.3"/>
<text transform="translate(292.6,375.3) scale(1.07,1)" text-anchor="end" class="tl">0.02</text>
<line x1="298" y1="358.3" x2="301" y2="358.3" stroke="#1a1a1a" stroke-width="1.3"/>
<line x1="298" y1="343.3" x2="304" y2="343.3" stroke="#1a1a1a" stroke-width="1.3"/>
<text transform="translate(292.6,345.3) scale(1.07,1)" text-anchor="end" class="tl">0.04</text>
<line x1="298" y1="328.3" x2="301" y2="328.3" stroke="#1a1a1a" stroke-width="1.3"/>
<line x1="298" y1="313.3" x2="304" y2="313.3" stroke="#1a1a1a" stroke-width="1.3"/>
<text transform="translate(292.6,315.3) scale(1.07,1)" text-anchor="end" class="tl">0.06</text>
<line x1="298" y1="298.3" x2="301" y2="298.3" stroke="#1a1a1a" stroke-width="1.3"/>
<line x1="298" y1="283.3" x2="304" y2="283.3" stroke="#1a1a1a" stroke-width="1.3"/>
<text transform="translate(292.6,285.3) scale(1.07,1)" text-anchor="end" class="tl">0.08</text>
<line x1="298" y1="268.3" x2="301" y2="268.3" stroke="#1a1a1a" stroke-width="1.3"/>
<line x1="298" y1="253.3" x2="304" y2="253.3" stroke="#1a1a1a" stroke-width="1.3"/>
<text transform="translate(292.6,255.3) scale(1.07,1)" text-anchor="end" class="tl">0.10</text>
<line x1="314.7" y1="418.9" x2="314.7" y2="412.9" stroke="#1a1a1a" stroke-width="1.3"/>
<text transform="translate(314.7,429.9) scale(1.07,1)" text-anchor="middle" class="tl">0</text>
<line x1="350.7" y1="418.9" x2="350.7" y2="412.9" stroke="#1a1a1a" stroke-width="1.3"/>
<text transform="translate(350.7,429.9) scale(1.07,1)" text-anchor="middle" class="tl">10</text>
<line x1="386.7" y1="418.9" x2="386.7" y2="412.9" stroke="#1a1a1a" stroke-width="1.3"/>
<text transform="translate(386.7,429.9) scale(1.07,1)" text-anchor="middle" class="tl">20</text>
<line x1="422.7" y1="418.9" x2="422.7" y2="412.9" stroke="#1a1a1a" stroke-width="1.3"/>
<text transform="translate(422.7,429.9) scale(1.07,1)" text-anchor="middle" class="tl">30</text>
<line x1="458.7" y1="418.9" x2="458.7" y2="412.9" stroke="#1a1a1a" stroke-width="1.3"/>
<text transform="translate(458.7,429.9) scale(1.07,1)" text-anchor="middle" class="tl">40</text>
<line x1="494.7" y1="418.9" x2="494.7" y2="412.9" stroke="#1a1a1a" stroke-width="1.3"/>
<text transform="translate(494.7,429.9) scale(1.07,1)" text-anchor="middle" class="tl">50</text>
<text x="397.35" y="448.3" text-anchor="middle" class="at">Time (minutes)</text>
<polyline points="314.7,253.3 332.7,334.6 350.7,370.6 386.7,391.75 422.7,391.75 476.7,403.3" fill="none" stroke="#1a1a1a" stroke-width="1.5" stroke-linejoin="round"/>
<polyline points="314.7,256.3 332.7,256.3 350.7,262.3 386.7,277.3 422.7,299.8 476.7,306.1" fill="none" stroke="#1a1a1a" stroke-width="1.5" stroke-linejoin="round"/>
<polyline points="314.7,256.3 332.7,287.5 350.7,309.55 386.7,326.8 422.7,326.8 476.7,335.35" fill="none" stroke="#1a1a1a" stroke-width="1.5" stroke-linejoin="round"/>
<polyline points="314.7,256.3 332.7,268.3 350.7,268.3 386.7,289.75 422.7,311.05 476.7,316.3" fill="none" stroke="#1a1a1a" stroke-width="1.5" stroke-linejoin="round"/>
<path d="M332.7 324.85 L332.7 344.35 M330.1 324.85 L335.3 324.85 M330.1 344.35 L335.3 344.35" stroke="#3a3a3a" stroke-width="1" fill="none"/>
<path d="M350.7 358.6 L350.7 382.6 M348.1 358.6 L353.3 358.6 M348.1 382.6 L353.3 382.6" stroke="#3a3a3a" stroke-width="1" fill="none"/>
<path d="M386.7 384.25 L386.7 399.25 M384.1 384.25 L389.3 384.25 M384.1 399.25 L389.3 399.25" stroke="#3a3a3a" stroke-width="1" fill="none"/>
<path d="M422.7 385.75 L422.7 397.75 M420.1 385.75 L425.3 385.75 M420.1 397.75 L425.3 397.75" stroke="#3a3a3a" stroke-width="1" fill="none"/>
<path d="M476.7 397.3 L476.7 409.3 M474.1 397.3 L479.3 397.3 M474.1 409.3 L479.3 409.3" stroke="#3a3a3a" stroke-width="1" fill="none"/>
<path d="M332.7 251.8 L332.7 260.8 M330.1 251.8 L335.3 251.8 M330.1 260.8 L335.3 260.8" stroke="#3a3a3a" stroke-width="1" fill="none"/>
<path d="M350.7 254.8 L350.7 269.8 M348.1 254.8 L353.3 254.8 M348.1 269.8 L353.3 269.8" stroke="#3a3a3a" stroke-width="1" fill="none"/>
<path d="M386.7 262.3 L386.7 292.3 M384.1 262.3 L389.3 262.3 M384.1 292.3 L389.3 292.3" stroke="#3a3a3a" stroke-width="1" fill="none"/>
<path d="M422.7 288.55 L422.7 311.05 M420.1 288.55 L425.3 288.55 M420.1 311.05 L425.3 311.05" stroke="#3a3a3a" stroke-width="1" fill="none"/>
<path d="M476.7 297.1 L476.7 315.1 M474.1 297.1 L479.3 297.1 M474.1 315.1 L479.3 315.1" stroke="#3a3a3a" stroke-width="1" fill="none"/>
<path d="M332.7 280.75 L332.7 294.25 M330.1 280.75 L335.3 280.75 M330.1 294.25 L335.3 294.25" stroke="#3a3a3a" stroke-width="1" fill="none"/>
<path d="M350.7 301.3 L350.7 317.8 M348.1 301.3 L353.3 301.3 M348.1 317.8 L353.3 317.8" stroke="#3a3a3a" stroke-width="1" fill="none"/>
<path d="M386.7 316.3 L386.7 337.3 M384.1 316.3 L389.3 316.3 M384.1 337.3 L389.3 337.3" stroke="#3a3a3a" stroke-width="1" fill="none"/>
<path d="M422.7 317.05 L422.7 336.55 M420.1 317.05 L425.3 317.05 M420.1 336.55 L425.3 336.55" stroke="#3a3a3a" stroke-width="1" fill="none"/>
<path d="M476.7 326.35 L476.7 344.35 M474.1 326.35 L479.3 326.35 M474.1 344.35 L479.3 344.35" stroke="#3a3a3a" stroke-width="1" fill="none"/>
<path d="M332.7 263.8 L332.7 272.8 M330.1 263.8 L335.3 263.8 M330.1 272.8 L335.3 272.8" stroke="#3a3a3a" stroke-width="1" fill="none"/>
<path d="M350.7 256.3 L350.7 280.3 M348.1 256.3 L353.3 256.3 M348.1 280.3 L353.3 280.3" stroke="#3a3a3a" stroke-width="1" fill="none"/>
<path d="M386.7 280 L386.7 299.5 M384.1 280 L389.3 280 M384.1 299.5 L389.3 299.5" stroke="#3a3a3a" stroke-width="1" fill="none"/>
<path d="M422.7 297.55 L422.7 324.55 M420.1 297.55 L425.3 297.55 M420.1 324.55 L425.3 324.55" stroke="#3a3a3a" stroke-width="1" fill="none"/>
<path d="M476.7 307.3 L476.7 325.3 M474.1 307.3 L479.3 307.3 M474.1 325.3 L479.3 325.3" stroke="#3a3a3a" stroke-width="1" fill="none"/>
<path d="M314.7 260.4 L318.2 254.5 L311.2 254.5 Z" fill="#ffffff" stroke="#1a1a1a" stroke-width="1" stroke-linejoin="miter"/>
<path d="M332.7 272.4 L336.2 266.5 L329.2 266.5 Z" fill="#ffffff" stroke="#1a1a1a" stroke-width="1" stroke-linejoin="miter"/>
<path d="M350.7 272.4 L354.2 266.5 L347.2 266.5 Z" fill="#ffffff" stroke="#1a1a1a" stroke-width="1" stroke-linejoin="miter"/>
<path d="M386.7 293.85 L390.2 287.95 L383.2 287.95 Z" fill="#ffffff" stroke="#1a1a1a" stroke-width="1" stroke-linejoin="miter"/>
<path d="M422.7 315.15 L426.2 309.25 L419.2 309.25 Z" fill="#ffffff" stroke="#1a1a1a" stroke-width="1" stroke-linejoin="miter"/>
<path d="M476.7 320.4 L480.2 314.5 L473.2 314.5 Z" fill="#ffffff" stroke="#1a1a1a" stroke-width="1" stroke-linejoin="miter"/>
<path d="M314.7 252.2 L318.2 258.1 L311.2 258.1 Z" fill="#ffffff" stroke="#1a1a1a" stroke-width="1" stroke-linejoin="miter"/>
<path d="M332.7 283.4 L336.2 289.3 L329.2 289.3 Z" fill="#ffffff" stroke="#1a1a1a" stroke-width="1" stroke-linejoin="miter"/>
<path d="M350.7 305.45 L354.2 311.35 L347.2 311.35 Z" fill="#ffffff" stroke="#1a1a1a" stroke-width="1" stroke-linejoin="miter"/>
<path d="M386.7 322.7 L390.2 328.6 L383.2 328.6 Z" fill="#ffffff" stroke="#1a1a1a" stroke-width="1" stroke-linejoin="miter"/>
<path d="M422.7 322.7 L426.2 328.6 L419.2 328.6 Z" fill="#ffffff" stroke="#1a1a1a" stroke-width="1" stroke-linejoin="miter"/>
<path d="M476.7 331.25 L480.2 337.15 L473.2 337.15 Z" fill="#ffffff" stroke="#1a1a1a" stroke-width="1" stroke-linejoin="miter"/>
<rect x="311.6" y="253.2" width="6.2" height="6.2" fill="#ffffff" stroke="#1a1a1a" stroke-width="1"/>
<rect x="329.6" y="253.2" width="6.2" height="6.2" fill="#ffffff" stroke="#1a1a1a" stroke-width="1"/>
<rect x="347.6" y="259.2" width="6.2" height="6.2" fill="#ffffff" stroke="#1a1a1a" stroke-width="1"/>
<rect x="383.6" y="274.2" width="6.2" height="6.2" fill="#ffffff" stroke="#1a1a1a" stroke-width="1"/>
<rect x="419.6" y="296.7" width="6.2" height="6.2" fill="#ffffff" stroke="#1a1a1a" stroke-width="1"/>
<rect x="473.6" y="303" width="6.2" height="6.2" fill="#ffffff" stroke="#1a1a1a" stroke-width="1"/>
<circle cx="314.7" cy="253.3" r="3.5" fill="#ffffff" stroke="#1a1a1a" stroke-width="1"/>
<circle cx="332.7" cy="334.6" r="3.5" fill="#ffffff" stroke="#1a1a1a" stroke-width="1"/>
<circle cx="350.7" cy="370.6" r="3.5" fill="#ffffff" stroke="#1a1a1a" stroke-width="1"/>
<circle cx="386.7" cy="391.75" r="3.5" fill="#ffffff" stroke="#1a1a1a" stroke-width="1"/>
<circle cx="422.7" cy="391.75" r="3.5" fill="#ffffff" stroke="#1a1a1a" stroke-width="1"/>
<circle cx="476.7" cy="403.3" r="3.5" fill="#ffffff" stroke="#1a1a1a" stroke-width="1"/>
<line x1="434.1" y1="247.6" x2="449.7" y2="247.6" stroke="#1a1a1a" stroke-width="1.3"/>
<circle cx="441.9" cy="247.6" r="3.5" fill="#ffffff" stroke="#1a1a1a" stroke-width="1"/>
<text x="453.5" y="250.2" class="lg">Control</text>
<line x1="434.1" y1="258.4" x2="449.7" y2="258.4" stroke="#1a1a1a" stroke-width="1.3"/>
<rect x="438.8" y="255.3" width="6.2" height="6.2" fill="#ffffff" stroke="#1a1a1a" stroke-width="1"/>
<text x="453.5" y="261" class="lg">Heparinase</text>
<line x1="434.1" y1="269.4" x2="449.7" y2="269.4" stroke="#1a1a1a" stroke-width="1.3"/>
<path d="M441.9 265.3 L445.4 271.2 L438.4 271.2 Z" fill="#ffffff" stroke="#1a1a1a" stroke-width="1" stroke-linejoin="miter"/>
<text x="453.5" y="272" class="lg">Suspension 8 h</text>
<line x1="434.1" y1="280.5" x2="449.7" y2="280.5" stroke="#1a1a1a" stroke-width="1.3"/>
<path d="M441.9 284.6 L445.4 278.7 L438.4 278.7 Z" fill="#ffffff" stroke="#1a1a1a" stroke-width="1" stroke-linejoin="miter"/>
<text x="453.5" y="283.1" class="lg">Suspension 16 h</text>
<path d="M54.5 488 L54.5 653.3 L252.8 653.3" fill="none" stroke="#1a1a1a" stroke-width="1.5"/>
<line x1="54.5" y1="638" x2="60.5" y2="638" stroke="#1a1a1a" stroke-width="1.3"/>
<text transform="translate(49.1,640) scale(1.07,1)" text-anchor="end" class="tl">0.0</text>
<line x1="54.5" y1="623" x2="57.5" y2="623" stroke="#1a1a1a" stroke-width="1.3"/>
<line x1="54.5" y1="608" x2="60.5" y2="608" stroke="#1a1a1a" stroke-width="1.3"/>
<text transform="translate(49.1,610) scale(1.07,1)" text-anchor="end" class="tl">2.5</text>
<line x1="54.5" y1="593" x2="57.5" y2="593" stroke="#1a1a1a" stroke-width="1.3"/>
<line x1="54.5" y1="578" x2="60.5" y2="578" stroke="#1a1a1a" stroke-width="1.3"/>
<text transform="translate(49.1,580) scale(1.07,1)" text-anchor="end" class="tl">5.0</text>
<line x1="54.5" y1="563" x2="57.5" y2="563" stroke="#1a1a1a" stroke-width="1.3"/>
<line x1="54.5" y1="548" x2="60.5" y2="548" stroke="#1a1a1a" stroke-width="1.3"/>
<text transform="translate(49.1,550) scale(1.07,1)" text-anchor="end" class="tl">7.5</text>
<line x1="54.5" y1="533" x2="57.5" y2="533" stroke="#1a1a1a" stroke-width="1.3"/>
<line x1="54.5" y1="518" x2="60.5" y2="518" stroke="#1a1a1a" stroke-width="1.3"/>
<text transform="translate(49.1,520) scale(1.07,1)" text-anchor="end" class="tl">10.0</text>
<line x1="54.5" y1="503" x2="57.5" y2="503" stroke="#1a1a1a" stroke-width="1.3"/>
<line x1="54.5" y1="488" x2="60.5" y2="488" stroke="#1a1a1a" stroke-width="1.3"/>
<text transform="translate(49.1,490) scale(1.07,1)" text-anchor="end" class="tl">12.5</text>
<line x1="72.4" y1="653.3" x2="72.4" y2="647.3" stroke="#1a1a1a" stroke-width="1.3"/>
<text transform="translate(72.4,664.3) scale(1.07,1)" text-anchor="middle" class="tl">0</text>
<line x1="108.48" y1="653.3" x2="108.48" y2="647.3" stroke="#1a1a1a" stroke-width="1.3"/>
<text transform="translate(108.48,664.3) scale(1.07,1)" text-anchor="middle" class="tl">10</text>
<line x1="144.56" y1="653.3" x2="144.56" y2="647.3" stroke="#1a1a1a" stroke-width="1.3"/>
<text transform="translate(144.56,664.3) scale(1.07,1)" text-anchor="middle" class="tl">20</text>
<line x1="180.64" y1="653.3" x2="180.64" y2="647.3" stroke="#1a1a1a" stroke-width="1.3"/>
<text transform="translate(180.64,664.3) scale(1.07,1)" text-anchor="middle" class="tl">30</text>
<line x1="216.72" y1="653.3" x2="216.72" y2="647.3" stroke="#1a1a1a" stroke-width="1.3"/>
<text transform="translate(216.72,664.3) scale(1.07,1)" text-anchor="middle" class="tl">40</text>
<line x1="252.8" y1="653.3" x2="252.8" y2="647.3" stroke="#1a1a1a" stroke-width="1.3"/>
<text transform="translate(252.8,664.3) scale(1.07,1)" text-anchor="middle" class="tl">50</text>
<text x="155.15" y="682.7" text-anchor="middle" class="at">Time (minutes)</text>
<polyline points="72.4,508.76 90.44,601.76 108.48,620.72 144.56,632 180.64,630.8 234.76,636.8" fill="none" stroke="#1a1a1a" stroke-width="1.5" stroke-linejoin="round"/>
<polyline points="72.4,504.8 90.44,512 108.48,512 144.56,508.76 180.64,562.04 234.76,567.5" fill="none" stroke="#1a1a1a" stroke-width="1.5" stroke-linejoin="round"/>
<polyline points="72.4,512.48 90.44,552.5 108.48,571.4 144.56,580.4 180.64,581.36 234.76,599.96" fill="none" stroke="#1a1a1a" stroke-width="1.5" stroke-linejoin="round"/>
<polyline points="72.4,512.48 90.44,523.4 108.48,544.4 144.56,526.28 180.64,545 234.76,554.48" fill="none" stroke="#1a1a1a" stroke-width="1.5" stroke-linejoin="round"/>
<path d="M108.48 615.92 L108.48 625.52 M105.88 615.92 L111.08 615.92 M105.88 625.52 L111.08 625.52" stroke="#3a3a3a" stroke-width="1" fill="none"/>
<path d="M144.56 626 L144.56 638 M141.96 626 L147.16 626 M141.96 638 L147.16 638" stroke="#3a3a3a" stroke-width="1" fill="none"/>
<path d="M180.64 623 L180.64 638.6 M178.04 623 L183.24 623 M178.04 638.6 L183.24 638.6" stroke="#3a3a3a" stroke-width="1" fill="none"/>
<path d="M234.76 630.8 L234.76 642.8 M232.16 630.8 L237.36 630.8 M232.16 642.8 L237.36 642.8" stroke="#3a3a3a" stroke-width="1" fill="none"/>
<path d="M90.44 506 L90.44 518 M87.84 506 L93.04 506 M87.84 518 L93.04 518" stroke="#3a3a3a" stroke-width="1" fill="none"/>
<path d="M108.48 504.8 L108.48 519.2 M105.88 504.8 L111.08 504.8 M105.88 519.2 L111.08 519.2" stroke="#3a3a3a" stroke-width="1" fill="none"/>
<path d="M144.56 504.56 L144.56 512.96 M141.96 504.56 L147.16 504.56 M141.96 512.96 L147.16 512.96" stroke="#3a3a3a" stroke-width="1" fill="none"/>
<path d="M180.64 556.04 L180.64 568.04 M178.04 556.04 L183.24 556.04 M178.04 568.04 L183.24 568.04" stroke="#3a3a3a" stroke-width="1" fill="none"/>
<path d="M234.76 560.9 L234.76 574.1 M232.16 560.9 L237.36 560.9 M232.16 574.1 L237.36 574.1" stroke="#3a3a3a" stroke-width="1" fill="none"/>
<path d="M90.44 545.9 L90.44 559.1 M87.84 545.9 L93.04 545.9 M87.84 559.1 L93.04 559.1" stroke="#3a3a3a" stroke-width="1" fill="none"/>
<path d="M108.48 564.2 L108.48 578.6 M105.88 564.2 L111.08 564.2 M105.88 578.6 L111.08 578.6" stroke="#3a3a3a" stroke-width="1" fill="none"/>
<path d="M144.56 573.8 L144.56 587 M141.96 573.8 L147.16 573.8 M141.96 587 L147.16 587" stroke="#3a3a3a" stroke-width="1" fill="none"/>
<path d="M180.64 575.96 L180.64 586.76 M178.04 575.96 L183.24 575.96 M178.04 586.76 L183.24 586.76" stroke="#3a3a3a" stroke-width="1" fill="none"/>
<path d="M234.76 592.16 L234.76 607.76 M232.16 592.16 L237.36 592.16 M232.16 607.76 L237.36 607.76" stroke="#3a3a3a" stroke-width="1" fill="none"/>
<path d="M108.48 528.8 L108.48 560 M105.88 528.8 L111.08 528.8 M105.88 560 L111.08 560" stroke="#3a3a3a" stroke-width="1" fill="none"/>
<path d="M144.56 517.28 L144.56 535.28 M141.96 517.28 L147.16 517.28 M141.96 535.28 L147.16 535.28" stroke="#3a3a3a" stroke-width="1" fill="none"/>
<path d="M180.64 535.4 L180.64 554.6 M178.04 535.4 L183.24 535.4 M178.04 554.6 L183.24 554.6" stroke="#3a3a3a" stroke-width="1" fill="none"/>
<path d="M234.76 546.08 L234.76 562.88 M232.16 546.08 L237.36 546.08 M232.16 562.88 L237.36 562.88" stroke="#3a3a3a" stroke-width="1" fill="none"/>
<path d="M72.4 516.58 L75.9 510.68 L68.9 510.68 Z" fill="#1a1a1a" stroke="#1a1a1a" stroke-width="1" stroke-linejoin="miter"/>
<path d="M90.44 527.5 L93.94 521.6 L86.94 521.6 Z" fill="#1a1a1a" stroke="#1a1a1a" stroke-width="1" stroke-linejoin="miter"/>
<path d="M108.48 548.5 L111.98 542.6 L104.98 542.6 Z" fill="#1a1a1a" stroke="#1a1a1a" stroke-width="1" stroke-linejoin="miter"/>
<path d="M144.56 530.38 L148.06 524.48 L141.06 524.48 Z" fill="#1a1a1a" stroke="#1a1a1a" stroke-width="1" stroke-linejoin="miter"/>
<path d="M180.64 549.1 L184.14 543.2 L177.14 543.2 Z" fill="#1a1a1a" stroke="#1a1a1a" stroke-width="1" stroke-linejoin="miter"/>
<path d="M234.76 558.58 L238.26 552.68 L231.26 552.68 Z" fill="#1a1a1a" stroke="#1a1a1a" stroke-width="1" stroke-linejoin="miter"/>
<path d="M72.4 508.38 L75.9 514.28 L68.9 514.28 Z" fill="#1a1a1a" stroke="#1a1a1a" stroke-width="1" stroke-linejoin="miter"/>
<path d="M90.44 548.4 L93.94 554.3 L86.94 554.3 Z" fill="#1a1a1a" stroke="#1a1a1a" stroke-width="1" stroke-linejoin="miter"/>
<path d="M108.48 567.3 L111.98 573.2 L104.98 573.2 Z" fill="#1a1a1a" stroke="#1a1a1a" stroke-width="1" stroke-linejoin="miter"/>
<path d="M144.56 576.3 L148.06 582.2 L141.06 582.2 Z" fill="#1a1a1a" stroke="#1a1a1a" stroke-width="1" stroke-linejoin="miter"/>
<path d="M180.64 577.26 L184.14 583.16 L177.14 583.16 Z" fill="#1a1a1a" stroke="#1a1a1a" stroke-width="1" stroke-linejoin="miter"/>
<path d="M234.76 595.86 L238.26 601.76 L231.26 601.76 Z" fill="#1a1a1a" stroke="#1a1a1a" stroke-width="1" stroke-linejoin="miter"/>
<rect x="69.3" y="501.7" width="6.2" height="6.2" fill="#ffffff" stroke="#1a1a1a" stroke-width="1"/>
<rect x="87.34" y="508.9" width="6.2" height="6.2" fill="#ffffff" stroke="#1a1a1a" stroke-width="1"/>
<rect x="105.38" y="508.9" width="6.2" height="6.2" fill="#ffffff" stroke="#1a1a1a" stroke-width="1"/>
<rect x="141.46" y="505.66" width="6.2" height="6.2" fill="#ffffff" stroke="#1a1a1a" stroke-width="1"/>
<rect x="177.54" y="558.94" width="6.2" height="6.2" fill="#ffffff" stroke="#1a1a1a" stroke-width="1"/>
<rect x="231.66" y="564.4" width="6.2" height="6.2" fill="#ffffff" stroke="#1a1a1a" stroke-width="1"/>
<circle cx="72.4" cy="508.76" r="3.5" fill="#ffffff" stroke="#1a1a1a" stroke-width="1"/>
<circle cx="90.44" cy="601.76" r="3.5" fill="#ffffff" stroke="#1a1a1a" stroke-width="1"/>
<circle cx="108.48" cy="620.72" r="3.5" fill="#ffffff" stroke="#1a1a1a" stroke-width="1"/>
<circle cx="144.56" cy="632" r="3.5" fill="#ffffff" stroke="#1a1a1a" stroke-width="1"/>
<circle cx="180.64" cy="630.8" r="3.5" fill="#ffffff" stroke="#1a1a1a" stroke-width="1"/>
<circle cx="234.76" cy="636.8" r="3.5" fill="#ffffff" stroke="#1a1a1a" stroke-width="1"/>
<line x1="171.6" y1="484.5" x2="187.2" y2="484.5" stroke="#1a1a1a" stroke-width="1.3"/>
<circle cx="179.4" cy="484.5" r="3.5" fill="#ffffff" stroke="#1a1a1a" stroke-width="1"/>
<text x="191.2" y="487.1" class="lg">Control</text>
<line x1="171.6" y1="495.7" x2="187.2" y2="495.7" stroke="#1a1a1a" stroke-width="1.3"/>
<rect x="176.3" y="492.6" width="6.2" height="6.2" fill="#ffffff" stroke="#1a1a1a" stroke-width="1"/>
<text x="191.2" y="498.3" class="lg">anti-TFPI-mAb</text>
<line x1="171.6" y1="508.2" x2="187.2" y2="508.2" stroke="#1a1a1a" stroke-width="1.3"/>
<path d="M179.4 504.1 L182.9 510 L175.9 510 Z" fill="#1a1a1a" stroke="#1a1a1a" stroke-width="1" stroke-linejoin="miter"/>
<text x="191.2" y="510.8" class="lg">Staurosporine 8 h</text>
<line x1="171.6" y1="519.2" x2="187.2" y2="519.2" stroke="#1a1a1a" stroke-width="1.3"/>
<path d="M179.4 523.3 L182.9 517.4 L175.9 517.4 Z" fill="#1a1a1a" stroke="#1a1a1a" stroke-width="1" stroke-linejoin="miter"/>
<text x="191.2" y="521.8" class="lg">Staurosporine 16 h</text>
<path d="M297 488 L297 653.1 L494.75 653.1" fill="none" stroke="#1a1a1a" stroke-width="1.5"/>
<line x1="297" y1="642" x2="303" y2="642" stroke="#1a1a1a" stroke-width="1.3"/>
<text transform="translate(291.6,644) scale(1.07,1)" text-anchor="end" class="tl">0.0</text>
<line x1="297" y1="631" x2="300" y2="631" stroke="#1a1a1a" stroke-width="1.3"/>
<line x1="297" y1="620" x2="303" y2="620" stroke="#1a1a1a" stroke-width="1.3"/>
<text transform="translate(291.6,622) scale(1.07,1)" text-anchor="end" class="tl">2.5</text>
<line x1="297" y1="609" x2="300" y2="609" stroke="#1a1a1a" stroke-width="1.3"/>
<line x1="297" y1="598" x2="303" y2="598" stroke="#1a1a1a" stroke-width="1.3"/>
<text transform="translate(291.6,600) scale(1.07,1)" text-anchor="end" class="tl">5.0</text>
<line x1="297" y1="587" x2="300" y2="587" stroke="#1a1a1a" stroke-width="1.3"/>
<line x1="297" y1="576" x2="303" y2="576" stroke="#1a1a1a" stroke-width="1.3"/>
<text transform="translate(291.6,578) scale(1.07,1)" text-anchor="end" class="tl">7.5</text>
<line x1="297" y1="565" x2="300" y2="565" stroke="#1a1a1a" stroke-width="1.3"/>
<line x1="297" y1="554" x2="303" y2="554" stroke="#1a1a1a" stroke-width="1.3"/>
<text transform="translate(291.6,556) scale(1.07,1)" text-anchor="end" class="tl">10.0</text>
<line x1="297" y1="543" x2="300" y2="543" stroke="#1a1a1a" stroke-width="1.3"/>
<line x1="297" y1="532" x2="303" y2="532" stroke="#1a1a1a" stroke-width="1.3"/>
<text transform="translate(291.6,534) scale(1.07,1)" text-anchor="end" class="tl">12.5</text>
<line x1="297" y1="521" x2="300" y2="521" stroke="#1a1a1a" stroke-width="1.3"/>
<line x1="297" y1="510" x2="303" y2="510" stroke="#1a1a1a" stroke-width="1.3"/>
<text transform="translate(291.6,512) scale(1.07,1)" text-anchor="end" class="tl">15.0</text>
<line x1="297" y1="499" x2="300" y2="499" stroke="#1a1a1a" stroke-width="1.3"/>
<line x1="297" y1="488" x2="303" y2="488" stroke="#1a1a1a" stroke-width="1.3"/>
<text transform="translate(291.6,490) scale(1.07,1)" text-anchor="end" class="tl">17.5</text>
<line x1="314" y1="653.1" x2="314" y2="647.1" stroke="#1a1a1a" stroke-width="1.3"/>
<text transform="translate(314,664.1) scale(1.07,1)" text-anchor="middle" class="tl">0</text>
<line x1="350.15" y1="653.1" x2="350.15" y2="647.1" stroke="#1a1a1a" stroke-width="1.3"/>
<text transform="translate(350.15,664.1) scale(1.07,1)" text-anchor="middle" class="tl">10</text>
<line x1="386.3" y1="653.1" x2="386.3" y2="647.1" stroke="#1a1a1a" stroke-width="1.3"/>
<text transform="translate(386.3,664.1) scale(1.07,1)" text-anchor="middle" class="tl">20</text>
<line x1="422.45" y1="653.1" x2="422.45" y2="647.1" stroke="#1a1a1a" stroke-width="1.3"/>
<text transform="translate(422.45,664.1) scale(1.07,1)" text-anchor="middle" class="tl">30</text>
<line x1="458.6" y1="653.1" x2="458.6" y2="647.1" stroke="#1a1a1a" stroke-width="1.3"/>
<text transform="translate(458.6,664.1) scale(1.07,1)" text-anchor="middle" class="tl">40</text>
<line x1="494.75" y1="653.1" x2="494.75" y2="647.1" stroke="#1a1a1a" stroke-width="1.3"/>
<text transform="translate(494.75,664.1) scale(1.07,1)" text-anchor="middle" class="tl">50</text>
<text x="396.88" y="682.5" text-anchor="middle" class="at">Time (minutes)</text>
<polyline points="314,501.29 332.07,602.49 350.15,617.54 386.3,628.27 422.45,636.72 476.68,640.5" fill="none" stroke="#1a1a1a" stroke-width="1.5" stroke-linejoin="round"/>
<polyline points="314,501.29 332.07,496.27 350.15,505.78 386.3,517.04 422.45,532 476.68,539.92" fill="none" stroke="#1a1a1a" stroke-width="1.5" stroke-linejoin="round"/>
<polyline points="314,505.6 332.07,528.04 350.15,543 386.3,553.74 422.45,576.26 476.68,576.26" fill="none" stroke="#1a1a1a" stroke-width="1.5" stroke-linejoin="round"/>
<polyline points="314,505.6 332.07,512.99 350.15,525.49 386.3,549.6 422.45,543.7 476.68,554.88" fill="none" stroke="#1a1a1a" stroke-width="1.5" stroke-linejoin="round"/>
<path d="M314 490.73 L314 511.85 M311.4 490.73 L316.6 490.73 M311.4 511.85 L316.6 511.85" stroke="#3a3a3a" stroke-width="1" fill="none"/>
<path d="M332.07 591.93 L332.07 613.05 M329.47 591.93 L334.68 591.93 M329.47 613.05 L334.68 613.05" stroke="#3a3a3a" stroke-width="1" fill="none"/>
<path d="M350.15 611.38 L350.15 623.7 M347.55 611.38 L352.75 611.38 M347.55 623.7 L352.75 623.7" stroke="#3a3a3a" stroke-width="1" fill="none"/>
<path d="M386.3 622.99 L386.3 633.55 M383.7 622.99 L388.9 622.99 M383.7 633.55 L388.9 633.55" stroke="#3a3a3a" stroke-width="1" fill="none"/>
<path d="M422.45 630.56 L422.45 642.88 M419.85 630.56 L425.05 630.56 M419.85 642.88 L425.05 642.88" stroke="#3a3a3a" stroke-width="1" fill="none"/>
<path d="M476.68 635.22 L476.68 645.78 M474.07 635.22 L479.28 635.22 M474.07 645.78 L479.28 645.78" stroke="#3a3a3a" stroke-width="1" fill="none"/>
<path d="M332.07 488.79 L332.07 503.75 M329.47 488.79 L334.68 488.79 M329.47 503.75 L334.68 503.75" stroke="#3a3a3a" stroke-width="1" fill="none"/>
<path d="M350.15 496.1 L350.15 515.46 M347.55 496.1 L352.75 496.1 M347.55 515.46 L352.75 515.46" stroke="#3a3a3a" stroke-width="1" fill="none"/>
<path d="M386.3 510 L386.3 524.08 M383.7 510 L388.9 510 M383.7 524.08 L388.9 524.08" stroke="#3a3a3a" stroke-width="1" fill="none"/>
<path d="M422.45 522.32 L422.45 541.68 M419.85 522.32 L425.05 522.32 M419.85 541.68 L425.05 541.68" stroke="#3a3a3a" stroke-width="1" fill="none"/>
<path d="M476.68 530.68 L476.68 549.16 M474.07 530.68 L479.28 530.68 M474.07 549.16 L479.28 549.16" stroke="#3a3a3a" stroke-width="1" fill="none"/>
<path d="M332.07 517.92 L332.07 538.16 M329.47 517.92 L334.68 517.92 M329.47 538.16 L334.68 538.16" stroke="#3a3a3a" stroke-width="1" fill="none"/>
<path d="M350.15 532.44 L350.15 553.56 M347.55 532.44 L352.75 532.44 M347.55 553.56 L352.75 553.56" stroke="#3a3a3a" stroke-width="1" fill="none"/>
<path d="M386.3 540.98 L386.3 566.5 M383.7 540.98 L388.9 540.98 M383.7 566.5 L388.9 566.5" stroke="#3a3a3a" stroke-width="1" fill="none"/>
<path d="M422.45 565.7 L422.45 586.82 M419.85 565.7 L425.05 565.7 M419.85 586.82 L425.05 586.82" stroke="#3a3a3a" stroke-width="1" fill="none"/>
<path d="M476.68 565.7 L476.68 586.82 M474.07 565.7 L479.28 565.7 M474.07 586.82 L479.28 586.82" stroke="#3a3a3a" stroke-width="1" fill="none"/>
<path d="M332.07 505.95 L332.07 520.03 M329.47 505.95 L334.68 505.95 M329.47 520.03 L334.68 520.03" stroke="#3a3a3a" stroke-width="1" fill="none"/>
<path d="M350.15 515.81 L350.15 535.17 M347.55 515.81 L352.75 515.81 M347.55 535.17 L352.75 535.17" stroke="#3a3a3a" stroke-width="1" fill="none"/>
<path d="M386.3 539.04 L386.3 560.16 M383.7 539.04 L388.9 539.04 M383.7 560.16 L388.9 560.16" stroke="#3a3a3a" stroke-width="1" fill="none"/>
<path d="M422.45 530.5 L422.45 556.9 M419.85 530.5 L425.05 530.5 M419.85 556.9 L425.05 556.9" stroke="#3a3a3a" stroke-width="1" fill="none"/>
<path d="M476.68 546.96 L476.68 562.8 M474.07 546.96 L479.28 546.96 M474.07 562.8 L479.28 562.8" stroke="#3a3a3a" stroke-width="1" fill="none"/>
<path d="M314 509.7 L317.5 503.8 L310.5 503.8 Z" fill="#ffffff" stroke="#1a1a1a" stroke-width="1" stroke-linejoin="miter"/>
<path d="M332.07 517.09 L335.57 511.19 L328.57 511.19 Z" fill="#ffffff" stroke="#1a1a1a" stroke-width="1" stroke-linejoin="miter"/>
<path d="M350.15 529.59 L353.65 523.69 L346.65 523.69 Z" fill="#ffffff" stroke="#1a1a1a" stroke-width="1" stroke-linejoin="miter"/>
<path d="M386.3 553.7 L389.8 547.8 L382.8 547.8 Z" fill="#ffffff" stroke="#1a1a1a" stroke-width="1" stroke-linejoin="miter"/>
<path d="M422.45 547.8 L425.95 541.9 L418.95 541.9 Z" fill="#ffffff" stroke="#1a1a1a" stroke-width="1" stroke-linejoin="miter"/>
<path d="M476.68 558.98 L480.18 553.08 L473.18 553.08 Z" fill="#ffffff" stroke="#1a1a1a" stroke-width="1" stroke-linejoin="miter"/>
<path d="M314 501.5 L317.5 507.4 L310.5 507.4 Z" fill="#ffffff" stroke="#1a1a1a" stroke-width="1" stroke-linejoin="miter"/>
<path d="M332.07 523.94 L335.57 529.84 L328.57 529.84 Z" fill="#ffffff" stroke="#1a1a1a" stroke-width="1" stroke-linejoin="miter"/>
<path d="M350.15 538.9 L353.65 544.8 L346.65 544.8 Z" fill="#ffffff" stroke="#1a1a1a" stroke-width="1" stroke-linejoin="miter"/>
<path d="M386.3 549.64 L389.8 555.54 L382.8 555.54 Z" fill="#ffffff" stroke="#1a1a1a" stroke-width="1" stroke-linejoin="miter"/>
<path d="M422.45 572.16 L425.95 578.06 L418.95 578.06 Z" fill="#ffffff" stroke="#1a1a1a" stroke-width="1" stroke-linejoin="miter"/>
<path d="M476.68 572.16 L480.18 578.06 L473.18 578.06 Z" fill="#ffffff" stroke="#1a1a1a" stroke-width="1" stroke-linejoin="miter"/>
<rect x="310.9" y="498.19" width="6.2" height="6.2" fill="#ffffff" stroke="#1a1a1a" stroke-width="1"/>
<rect x="328.97" y="493.17" width="6.2" height="6.2" fill="#ffffff" stroke="#1a1a1a" stroke-width="1"/>
<rect x="347.05" y="502.68" width="6.2" height="6.2" fill="#ffffff" stroke="#1a1a1a" stroke-width="1"/>
<rect x="383.2" y="513.94" width="6.2" height="6.2" fill="#ffffff" stroke="#1a1a1a" stroke-width="1"/>
<rect x="419.35" y="528.9" width="6.2" height="6.2" fill="#ffffff" stroke="#1a1a1a" stroke-width="1"/>
<rect x="473.57" y="536.82" width="6.2" height="6.2" fill="#ffffff" stroke="#1a1a1a" stroke-width="1"/>
<circle cx="314" cy="501.29" r="3.5" fill="#ffffff" stroke="#1a1a1a" stroke-width="1"/>
<circle cx="332.07" cy="602.49" r="3.5" fill="#ffffff" stroke="#1a1a1a" stroke-width="1"/>
<circle cx="350.15" cy="617.54" r="3.5" fill="#ffffff" stroke="#1a1a1a" stroke-width="1"/>
<circle cx="386.3" cy="628.27" r="3.5" fill="#ffffff" stroke="#1a1a1a" stroke-width="1"/>
<circle cx="422.45" cy="636.72" r="3.5" fill="#ffffff" stroke="#1a1a1a" stroke-width="1"/>
<circle cx="476.68" cy="640.5" r="3.5" fill="#ffffff" stroke="#1a1a1a" stroke-width="1"/>
<line x1="431.6" y1="484.3" x2="447.2" y2="484.3" stroke="#1a1a1a" stroke-width="1.3"/>
<circle cx="439.4" cy="484.3" r="3.5" fill="#ffffff" stroke="#1a1a1a" stroke-width="1"/>
<text x="450.9" y="486.9" class="lg">Control</text>
<line x1="431.6" y1="495.6" x2="447.2" y2="495.6" stroke="#1a1a1a" stroke-width="1.3"/>
<rect x="436.3" y="492.5" width="6.2" height="6.2" fill="#ffffff" stroke="#1a1a1a" stroke-width="1"/>
<text x="450.9" y="498.2" class="lg">anti-TFPI-mAb</text>
<line x1="431.6" y1="508.2" x2="447.2" y2="508.2" stroke="#1a1a1a" stroke-width="1.3"/>
<path d="M439.4 504.1 L442.9 510 L435.9 510 Z" fill="#ffffff" stroke="#1a1a1a" stroke-width="1" stroke-linejoin="miter"/>
<text x="450.9" y="510.8" class="lg">Suspension 8 h</text>
<line x1="431.6" y1="519.1" x2="447.2" y2="519.1" stroke="#1a1a1a" stroke-width="1.3"/>
<path d="M439.4 523.2 L442.9 517.3 L435.9 517.3 Z" fill="#ffffff" stroke="#1a1a1a" stroke-width="1" stroke-linejoin="miter"/>
<text x="450.9" y="521.7" class="lg">Suspension 16 h</text>
<text transform="translate(27.4,96) rotate(-90) scale(0.98,1)" text-anchor="middle" class="at">APC (pmol/mL/10<tspan dx="0.8" dy="-8">6</tspan><tspan dy="8"> cells)</tspan></text>
<text transform="translate(23.9,331.6) rotate(-90) scale(0.99,1)" text-anchor="middle" class="at">Thrombin (U/mL/10<tspan dx="0.8" dy="-8">6</tspan><tspan dy="8"> cells)</tspan></text>
<text transform="translate(22.9,565.4) rotate(-90) scale(0.99,1)" text-anchor="middle" class="at">Factor Xa (pmol/mL/10<tspan dx="0.8" dy="-8">6</tspan><tspan dy="8"> cells)</tspan></text>
<text x="18.6" y="209.8" class="pl">A</text>
<text x="19.2" y="443.8" class="pl">B</text>
<text x="18.2" y="680" class="pl">C</text>
</svg>
</body></html>
